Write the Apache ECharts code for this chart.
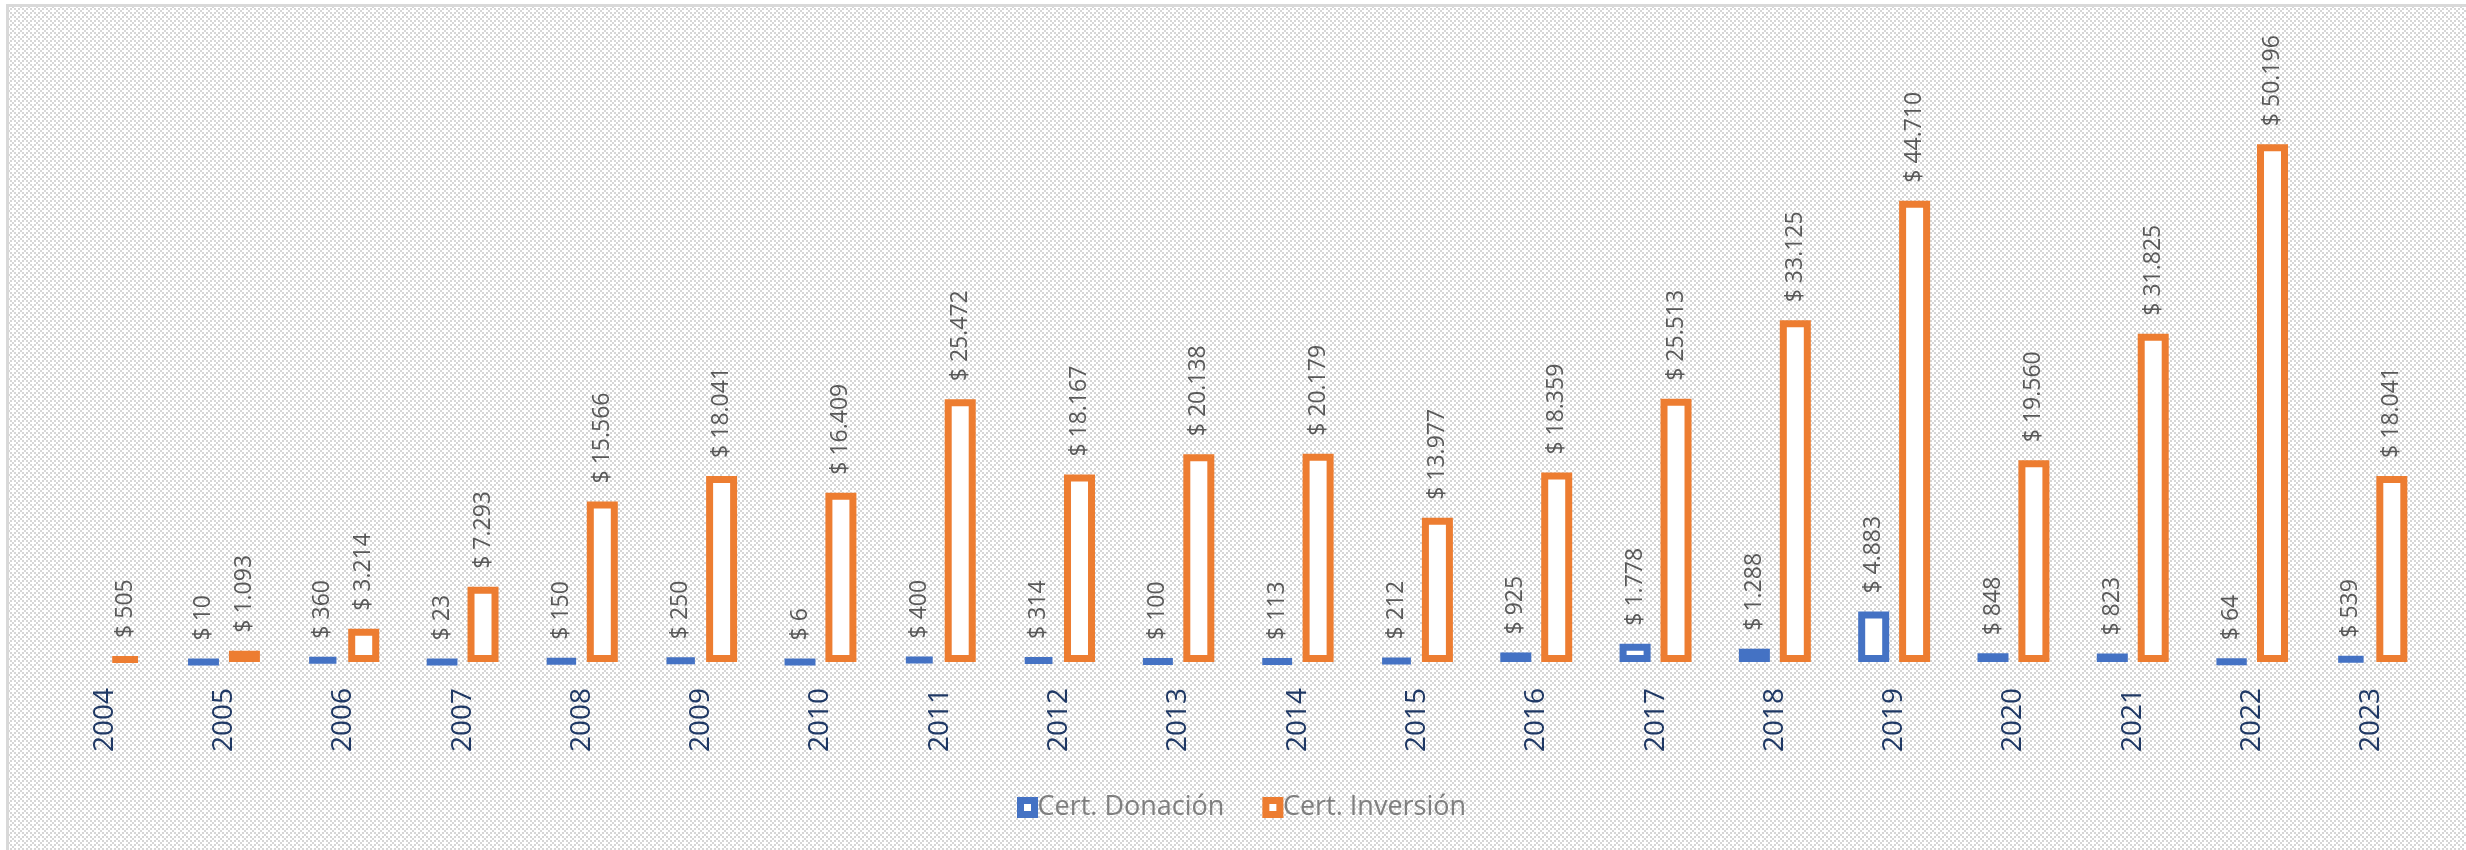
<!DOCTYPE html>
<html>
<head>
<meta charset="utf-8">
<script src="https://cdn.jsdelivr.net/npm/echarts@6/dist/echarts.min.js"></script>
<style>
  html, body { margin: 0; padding: 0; background: #ffffff; width: 2466px; height: 850px; overflow: hidden; }
  #bg { position: absolute; left: 6px; top: 4px; right: 0; bottom: 0; border-left: 3px solid #d9d9d9; border-top: 3px solid #d9d9d9; }
  #chart { position: absolute; left: 0; top: 0; width: 2466px; height: 850px; }
</style>
</head>
<body>
<div id="bg"></div>
<div id="chart"></div>
<script>
// ---- data ----
var years = ['2004','2005','2006','2007','2008','2009','2010','2011','2012','2013','2014','2015','2016','2017','2018','2019','2020','2021','2022','2023'];
var donacion = ['-', 10, 360, 23, 150, 250, 6, 400, 314, 100, 113, 212, 925, 1778, 1288, 4883, 848, 823, 64, 539];
var inversion = [505, 1093, 3214, 7293, 15566, 18041, 16409, 25472, 18167, 20138, 20179, 13977, 18359, 25513, 33125, 44710, 19560, 31825, 50196, 18041];
var seriesNames = ['Cert. Donación', 'Cert. Inversión'];

// ---- background pattern ----
(function () {
  var c = document.createElement('canvas');
  c.width = 8; c.height = 8;
  var g = c.getContext('2d');
  g.fillStyle = '#d6d6d6';
  g.fillRect(0, 0, 8, 8);
  g.fillStyle = '#ffffff';
  function plus(cx, cy) {
    g.fillRect(cx - 1, cy - 3, 2, 6);
    g.fillRect(cx - 3, cy - 1, 6, 2);
  }
  plus(4, 4);
  [[0,0],[8,0],[0,8],[8,8]].forEach(function (p) { plus(p[0], p[1]); });
  document.getElementById('bg').style.backgroundImage = 'url(' + c.toDataURL() + ')';
})();

function fmt(v) {
  return '$ ' + String(v).replace(/\B(?=(\d{3})+(?!\d))/g, '.');
}

var blue = '#4472C4', orange = '#ED7D31';
var labelCfg = {
  show: true,
  position: 'top',
  rotate: 90,
  align: 'left',
  verticalAlign: 'middle',
  distance: 18,
  color: '#595959',
  fontFamily: 'Open Sans',
  fontSize: 23,
  formatter: function (p) { return fmt(p.value); }
};

var chart = echarts.init(document.getElementById('chart'), null, { renderer: 'canvas' });
chart.setOption({
  backgroundColor: 'transparent',
  animation: false,
  grid: { left: 45, right: 35, top: 43, bottom: 188, containLabel: false },
  legend: {
    left: 1012, top: 789,
    itemWidth: 14, itemHeight: 14,
    itemGap: 38,
    textStyle: { color: '#7f7f7f', fontFamily: 'Open Sans', fontSize: 27, padding: [0, 0, 0, -2] },
    data: [
      { name: seriesNames[0], icon: 'rect', itemStyle: { color: '#ffffff', borderColor: blue, borderWidth: 7 } },
      { name: seriesNames[1], icon: 'rect', itemStyle: { color: '#ffffff', borderColor: orange, borderWidth: 7 } }
    ]
  },
  xAxis: {
    type: 'category',
    data: years,
    axisLine: { show: false },
    axisTick: { show: false },
    axisLabel: {
      rotate: 90,
      margin: 26,
      interval: 0,
      color: '#1F3864',
      fontFamily: 'Open Sans',
      fontSize: 28
    }
  },
  yAxis: {
    type: 'value',
    min: 0, max: 60000,
    show: false,
    splitLine: { show: false }
  },
  series: [
    {
      name: seriesNames[0],
      type: 'bar',
      data: donacion,
      barWidth: 31,
      barGap: '32%',
      itemStyle: { color: '#ffffff', borderColor: blue, borderWidth: 7 },
      label: labelCfg
    },
    {
      name: seriesNames[1],
      type: 'bar',
      data: inversion,
      barWidth: 31,
      barGap: '32%',
      itemStyle: { color: '#ffffff', borderColor: orange, borderWidth: 7 },
      label: labelCfg
    }
  ]
});
</script>
</body>
</html>
